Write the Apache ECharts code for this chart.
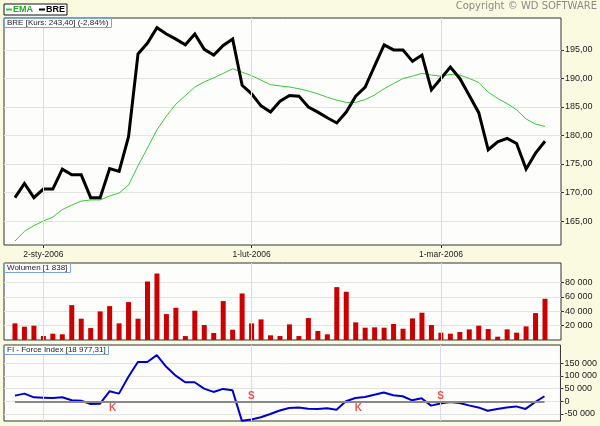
<!DOCTYPE html>
<html>
<head>
<meta charset="utf-8">
<script src="https://cdn.jsdelivr.net/npm/echarts@6.0.0/dist/echarts.min.js"></script>
<style>
html,body{margin:0;padding:0;background:#FAFAE1;}
#chart{width:600px;height:426px;}
</style>
</head>
<body>
<div id="chart"></div>
<script>
const dates = [
  '28-gru-2005','29-gru-2005','30-gru-2005',
  '2-sty-2006','3-sty-2006','4-sty-2006','5-sty-2006','6-sty-2006','9-sty-2006','10-sty-2006','11-sty-2006','12-sty-2006','13-sty-2006',
  '16-sty-2006','17-sty-2006','18-sty-2006','19-sty-2006','20-sty-2006','23-sty-2006','24-sty-2006','25-sty-2006','26-sty-2006','27-sty-2006',
  '30-sty-2006','31-sty-2006',
  '1-lut-2006','2-lut-2006','3-lut-2006','6-lut-2006','7-lut-2006','8-lut-2006','9-lut-2006','10-lut-2006','13-lut-2006','14-lut-2006',
  '15-lut-2006','16-lut-2006','17-lut-2006','20-lut-2006','21-lut-2006','22-lut-2006','23-lut-2006','24-lut-2006','27-lut-2006','28-lut-2006',
  '1-mar-2006','2-mar-2006','3-mar-2006','6-mar-2006','7-mar-2006','8-mar-2006','9-mar-2006','10-mar-2006','13-mar-2006','14-mar-2006',
  '15-mar-2006','16-mar-2006'
];
const price = [
  169.1,171.6,169.1,170.6,170.6,174.1,173.1,173.1,169.1,169.1,
  174.2,173.7,179.8,194.3,196.2,198.9,197.8,196.9,195.9,197.8,
  195.1,194.1,195.8,196.9,188.8,187.3,185.2,184.1,186.0,187.0,
  186.9,185.0,184.1,183.1,182.2,184.1,186.9,188.5,192.2,195.9,
  195.0,195.0,193.0,194.1,188.0,190.0,192.0,190.0,187.0,184.0,
  177.5,178.9,179.5,178.6,174.1,176.9,179.0
];
const ema = [
  161.5,163.2,164.2,165.0,165.7,167.0,167.8,168.5,168.7,168.7,
  169.4,169.9,171.3,174.7,177.8,181.0,183.4,185.5,187.0,188.5,
  189.4,190.1,190.9,191.7,191.1,190.5,189.7,188.9,188.7,188.5,
  188.2,187.8,187.3,186.7,186.2,185.8,185.8,186.3,187.1,188.2,
  189.1,190.0,190.4,190.9,190.6,190.4,190.7,190.6,190.0,189.3,
  187.6,186.5,185.6,184.5,182.9,182.0,181.6
];
const volume = [
  23100,18500,19900,5500,8800,7900,48500,29600,16600,39700,
  47100,23100,52700,29600,81300,92400,36000,44800,5500,40700,
  20800,9700,54100,14300,64700,23100,28600,6500,5500,21700,
  5500,30500,12500,7900,73500,67000,24500,17100,17600,17100,
  22200,15700,30000,37900,20800,10200,8800,11100,14800,19900,
  15200,4600,14800,10200,18900,37400,57300
];
const force = [
  22400,30300,15800,14500,13200,15800,3900,2600,-10500,-9200,
  39500,30300,97000,155000,155000,182000,136000,101000,75000,75000,
  50000,37000,49000,44000,-77000,-72000,-63000,-50000,-36000,-26000,
  -24000,-29000,-30000,-27000,-33000,0,13000,17000,26000,35000,
  24000,20000,4000,12000,-17000,-9000,-3000,-7000,-16000,-24000,
  -37000,-30000,-24000,-20000,-30000,-3000,20000
];
const buySignals = [10, 36];
const sellSignals = [25, 45];
const dateTicks = [3, 25, 45];
const priceTicks = [165, 170, 175, 180, 185, 190, 195];
const volumeTicks = [20000, 40000, 60000, 80000];
const forceTicks = [-50000, 0, 50000, 100000, 150000];

const FONT = 'Liberation Sans';
const GRIDC = '#e3e3e3';
function spaced(v) {
  const s = Math.abs(Math.round(v)).toString().replace(/\B(?=(\d{3})+(?!\d))/g, ' ');
  return (v < 0 ? '-' : '') + s;
}
const pairs = arr => arr.map((v, i) => [i, v]);
const xMin = -1.16, xMax = 57.69;

function xAxisFor(gridIndex, withLabels) {
  return {
    type: 'value', gridIndex: gridIndex, min: xMin, max: xMax,
    axisLine: {show: false, onZero: false},
    axisTick: {show: withLabels, customValues: dateTicks, length: 3, inside: false, lineStyle: {color: '#333'}},
    axisLabel: {show: withLabels, customValues: dateTicks, formatter: v => dates[Math.round(v)] || '',
      fontSize: 8.5, fontFamily: FONT, color: '#222', margin: 5},
    splitLine: {show: false}
  };
}
function yAxisFor(gridIndex, min, max, ticks, fmt) {
  return {
    type: 'value', gridIndex: gridIndex, position: 'right', min: min, max: max,
    axisLine: {show: false, onZero: false},
    axisTick: {show: true, customValues: ticks, length: 3, lineStyle: {color: '#333'}},
    axisLabel: {customValues: ticks, formatter: fmt, fontSize: 9, fontFamily: FONT, color: '#222', margin: 4},
    splitLine: {show: true, lineStyle: {color: GRIDC, width: 1}}
  };
}
const dateLines = () => ({
  silent: true, symbol: 'none', animation: false, label: {show: false}, emphasis: {disabled: true},
  lineStyle: {color: '#dcdce4', width: 1, type: 'solid'},
  data: dateTicks.map(i => ({xAxis: i}))
});
const titleBox = (text, top) => ({
  text: text, left: 4, top: top, padding: [0, 3],
  backgroundColor: '#ffffff', borderColor: '#7fa3dc', borderWidth: 1,
  textStyle: {fontSize: 8, fontWeight: 'normal', color: '#222', fontFamily: FONT, lineHeight: 10}
});

const chart = echarts.init(document.getElementById('chart'), null, {renderer: 'canvas'});
chart.setOption({
  animation: false,
  backgroundColor: '#FAFAE1',
  title: [
    titleBox('BRE [Kurs: 243,40] (-2,84%)', 18),
    titleBox('Wolumen [1 838]', 263),
    titleBox('FI - Force Index [18 977,31]', 345),
    {text: 'Copyright © WD SOFTWARE', right: 3, top: 1, padding: 0,
      textStyle: {fontSize: 10, fontWeight: 'normal', color: '#8a8a8a', fontFamily: 'DejaVu Sans'}}
  ],
  legend: {
    left: 4, top: 4, padding: [1, 2], itemGap: 6, itemWidth: 6, itemHeight: 2, icon: 'rect',
    backgroundColor: '#ffffff', borderColor: '#111', borderWidth: 1, selectedMode: false,
    textStyle: {fontSize: 9, fontWeight: 'bold', fontFamily: FONT, padding: [0, 0, 0, -4], lineHeight: 9},
    data: [
      {name: 'EMA', textStyle: {color: '#22aa22'}},
      {name: 'BRE', textStyle: {color: '#000'}}
    ]
  },
  grid: [
    {left: 4, top: 18, width: 557, height: 227, show: true, backgroundColor: '#FDFEFB', borderColor: '#333', borderWidth: 1},
    {left: 4, top: 263, width: 557, height: 77, show: true, backgroundColor: '#FDFEFB', borderColor: '#333', borderWidth: 1},
    {left: 4, top: 345, width: 557, height: 76, show: true, backgroundColor: '#FDFEFB', borderColor: '#333', borderWidth: 1}
  ],
  xAxis: [xAxisFor(0, true), xAxisFor(1, false), xAxisFor(2, false)],
  yAxis: [
    yAxisFor(0, 160.8, 200.6, priceTicks, v => v.toFixed(2).replace('.', ',')),
    yAxisFor(1, 0, 107000, volumeTicks, spaced),
    yAxisFor(2, -77600, 222000, forceTicks, spaced)
  ],
  series: [
    {name: 'EMA', type: 'line', xAxisIndex: 0, yAxisIndex: 0, data: pairs(ema), showSymbol: false,
      color: '#33cc33', lineStyle: {width: 1, color: '#33cc33'}, z: 3, markLine: dateLines()},
    {name: 'BRE', type: 'line', xAxisIndex: 0, yAxisIndex: 0, data: pairs(price), showSymbol: false,
      color: '#000', lineStyle: {width: 3, color: '#000', join: 'miter'}, z: 4},
    {name: 'Wolumen', type: 'bar', xAxisIndex: 1, yAxisIndex: 1, data: pairs(volume), barWidth: 5,
      itemStyle: {color: '#cc0000'}, markLine: dateLines()},
    {name: 'FIgrid', type: 'line', xAxisIndex: 2, yAxisIndex: 2, data: [], z: 2, markLine: dateLines()},
    {name: 'FI', type: 'line', xAxisIndex: 2, yAxisIndex: 2, data: pairs(force), showSymbol: false,
      lineStyle: {width: 2, color: '#0000cc'}, color: '#0000cc', z: 4,
      markLine: {silent: true, symbol: 'none', animation: false,
        lineStyle: {color: '#888', width: 2, type: 'solid'}, label: {show: false},
        emphasis: {disabled: true},
        data: [[{coord: [0, 0]}, {coord: [force.length - 1, 0]}]]}},
    {name: 'K', type: 'scatter', xAxisIndex: 2, yAxisIndex: 2, symbolSize: 0, z: 5,
      data: buySignals.map(i => [i, 0]),
      label: {show: true, formatter: 'K', position: 'bottom', distance: 2, offset: [3, 0],
        color: '#ee2222', fontWeight: 'bold', fontSize: 10, fontFamily: FONT}},
    {name: 'S', type: 'scatter', xAxisIndex: 2, yAxisIndex: 2, symbolSize: 0, z: 5,
      data: sellSignals.map(i => [i, 0]),
      label: {show: true, formatter: 'S', position: 'top', distance: 0,
        color: '#ee2222', fontWeight: 'bold', fontSize: 10, fontFamily: FONT}}
  ]
});
</script>
</body>
</html>
